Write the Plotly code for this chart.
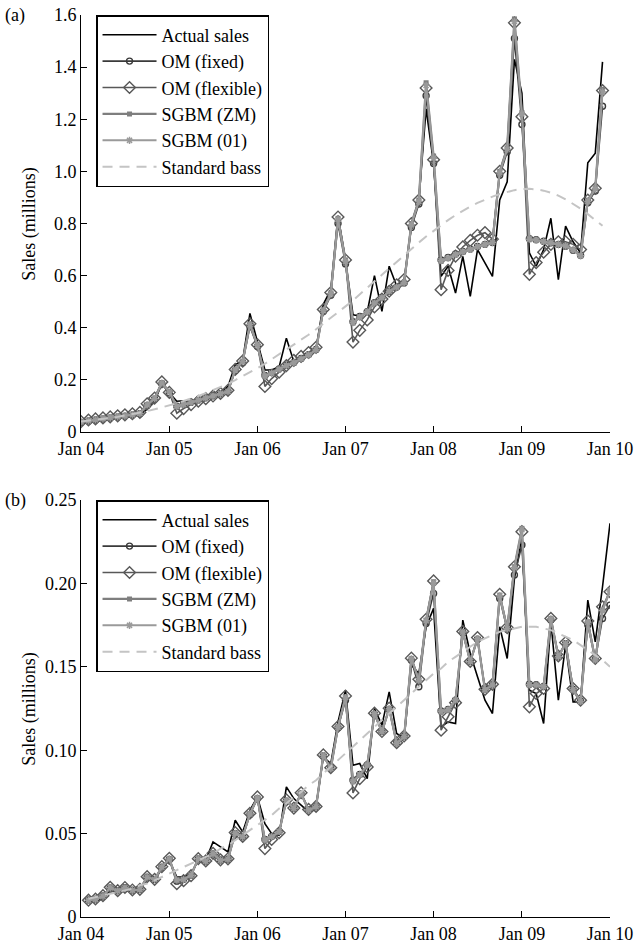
import pandas as pd
import plotly.graph_objects as go

FONT = "Liberation Serif, Times New Roman, serif"

# ---------------- Panel (a): monthly sales, Jan 2004 - Dec 2009 ----------------
months_a = pd.date_range("2004-01-01", periods=72, freq="MS")

actual_a = [
    0.033, 0.038, 0.042, 0.046, 0.050, 0.053, 0.056, 0.060, 0.066, 0.088, 0.118, 0.185,
    0.150, 0.118, 0.120, 0.118, 0.125, 0.132, 0.140, 0.152, 0.175, 0.258, 0.275, 0.455,
    0.345, 0.238, 0.238, 0.250, 0.360, 0.270, 0.285, 0.300, 0.320, 0.490, 0.546, 0.830,
    0.660, 0.450, 0.445, 0.460, 0.600, 0.463, 0.636, 0.560, 0.580, 0.790, 0.890, 1.240,
    1.030, 0.597, 0.636, 0.533, 0.674, 0.520, 0.700, 0.650, 0.597, 0.890, 0.960, 1.430,
    1.300, 0.687, 0.636, 0.700, 0.820, 0.585, 0.790, 0.730, 0.687, 1.033, 1.070, 1.420,
]
om_fixed_a = [
    0.037, 0.042, 0.046, 0.050, 0.054, 0.058, 0.061, 0.065, 0.070, 0.102, 0.126, 0.185,
    0.150, 0.099, 0.107, 0.114, 0.123, 0.131, 0.139, 0.147, 0.156, 0.235, 0.266, 0.405,
    0.328, 0.217, 0.228, 0.242, 0.256, 0.267, 0.282, 0.297, 0.317, 0.462, 0.525, 0.800,
    0.645, 0.423, 0.443, 0.462, 0.496, 0.516, 0.540, 0.556, 0.572, 0.785, 0.875, 1.290,
    1.030, 0.660, 0.670, 0.683, 0.693, 0.702, 0.712, 0.720, 0.727, 0.985, 1.075, 1.510,
    1.180, 0.742, 0.738, 0.732, 0.726, 0.720, 0.713, 0.697, 0.678, 0.880, 0.925, 1.250,
]
om_flex_a = [
    0.040, 0.046, 0.050, 0.054, 0.058, 0.062, 0.066, 0.070, 0.075, 0.108, 0.130, 0.192,
    0.152, 0.072, 0.090, 0.105, 0.118, 0.128, 0.138, 0.148, 0.160, 0.240, 0.272, 0.415,
    0.335, 0.175, 0.205, 0.230, 0.255, 0.275, 0.290, 0.305, 0.325, 0.470, 0.535, 0.825,
    0.660, 0.345, 0.390, 0.430, 0.480, 0.510, 0.540, 0.565, 0.585, 0.800, 0.890, 1.320,
    1.045, 0.546, 0.620, 0.675, 0.710, 0.735, 0.755, 0.765, 0.740, 1.000, 1.090, 1.570,
    1.210, 0.605, 0.650, 0.690, 0.720, 0.730, 0.730, 0.720, 0.700, 0.890, 0.935, 1.310,
]
sgbm_zm_a = [
    0.038, 0.043, 0.047, 0.051, 0.055, 0.058, 0.062, 0.066, 0.071, 0.105, 0.130, 0.190,
    0.155, 0.097, 0.105, 0.113, 0.122, 0.130, 0.138, 0.146, 0.155, 0.240, 0.272, 0.415,
    0.335, 0.213, 0.225, 0.240, 0.255, 0.265, 0.280, 0.295, 0.315, 0.469, 0.533, 0.820,
    0.660, 0.418, 0.440, 0.460, 0.495, 0.515, 0.540, 0.555, 0.572, 0.800, 0.890, 1.340,
    1.059, 0.655, 0.665, 0.680, 0.690, 0.700, 0.710, 0.720, 0.726, 1.000, 1.090, 1.585,
    1.226, 0.738, 0.735, 0.730, 0.725, 0.720, 0.715, 0.700, 0.674, 0.890, 0.937, 1.315,
]
sgbm_01_a = [
    0.039, 0.043, 0.047, 0.051, 0.055, 0.059, 0.062, 0.066, 0.071, 0.104, 0.128, 0.188,
    0.153, 0.098, 0.106, 0.114, 0.122, 0.130, 0.138, 0.147, 0.156, 0.238, 0.270, 0.412,
    0.333, 0.215, 0.226, 0.241, 0.255, 0.266, 0.281, 0.296, 0.316, 0.466, 0.530, 0.815,
    0.655, 0.420, 0.441, 0.461, 0.495, 0.515, 0.540, 0.556, 0.573, 0.795, 0.885, 1.330,
    1.050, 0.657, 0.667, 0.681, 0.691, 0.701, 0.711, 0.720, 0.727, 0.995, 1.085, 1.575,
    1.220, 0.740, 0.736, 0.731, 0.726, 0.720, 0.714, 0.699, 0.676, 0.885, 0.932, 1.305,
]
bass_a = [
    0.040, 0.043, 0.046, 0.050, 0.054, 0.058, 0.063, 0.068, 0.074, 0.080, 0.087, 0.094,
    0.102, 0.110, 0.119, 0.128, 0.138, 0.149, 0.160, 0.172, 0.185, 0.199, 0.214, 0.229,
    0.245, 0.262, 0.279, 0.297, 0.315, 0.334, 0.353, 0.373, 0.394, 0.415, 0.437, 0.459,
    0.482, 0.505, 0.529, 0.553, 0.578, 0.603, 0.628, 0.653, 0.678, 0.703, 0.727, 0.750,
    0.772, 0.793, 0.813, 0.832, 0.849, 0.865, 0.879, 0.892, 0.903, 0.913, 0.921, 0.928,
    0.932, 0.933, 0.931, 0.926, 0.918, 0.907, 0.893, 0.876, 0.857, 0.836, 0.814, 0.791,
]

# ---------------- Panel (b): monthly sales, Feb 2004 - Jan 2010 ----------------
months_b = pd.date_range("2004-02-01", periods=72, freq="MS")

actual_b = [
    0.009, 0.0095, 0.011, 0.016, 0.015, 0.017, 0.016, 0.016, 0.023, 0.022, 0.029,
    0.034,
    0.024, 0.024, 0.026, 0.034, 0.034, 0.045, 0.042, 0.039, 0.058, 0.051, 0.064,
    0.072,
    0.056, 0.050, 0.049, 0.078, 0.071, 0.067, 0.063, 0.066, 0.096, 0.092, 0.117,
    0.136,
    0.091, 0.092, 0.083, 0.125, 0.115, 0.135, 0.110, 0.107, 0.151, 0.146, 0.174,
    0.185,
    0.114, 0.117, 0.116, 0.178, 0.158, 0.144, 0.130, 0.122, 0.174, 0.155, 0.203,
    0.227,
    0.136, 0.134, 0.116, 0.177, 0.130, 0.163, 0.129, 0.129, 0.190, 0.165, 0.198,
    0.236,
]
om_fixed_b = [
    0.0102, 0.0107, 0.0126, 0.0174, 0.0157, 0.0175, 0.0161, 0.0165, 0.0238, 0.0225, 0.0298,
    0.0345,
    0.0215, 0.0226, 0.0251, 0.0348, 0.0335, 0.0378, 0.0342, 0.0347, 0.0500, 0.0481, 0.0615,
    0.0710,
    0.0465, 0.0483, 0.0512, 0.0695, 0.0652, 0.0738, 0.0643, 0.0661, 0.0965, 0.0893, 0.1135,
    0.1300,
    0.0820, 0.0855, 0.0912, 0.1215, 0.1112, 0.1245, 0.1045, 0.1082, 0.1540, 0.1380, 0.1760,
    0.1940,
    0.1235, 0.1245, 0.1300, 0.1705, 0.1532, 0.1665, 0.1365, 0.1392, 0.1910, 0.1725, 0.2050,
    0.2230,
    0.1395, 0.1392, 0.1382, 0.1780, 0.1562, 0.1638, 0.1365, 0.1295, 0.1750, 0.1545, 0.1790,
    0.1870,
]
om_flex_b = [
    0.0101, 0.0108, 0.0128, 0.0178, 0.0158, 0.0177, 0.0162, 0.0166, 0.0242, 0.0226, 0.0302,
    0.0352,
    0.0200, 0.0218, 0.0248, 0.0350, 0.0336, 0.0382, 0.0343, 0.0349, 0.0506, 0.0483, 0.0622,
    0.0720,
    0.0410, 0.0465, 0.0505, 0.0702, 0.0653, 0.0745, 0.0645, 0.0663, 0.0972, 0.0895, 0.1142,
    0.1325,
    0.0744, 0.0830, 0.0900, 0.1222, 0.1112, 0.1252, 0.1045, 0.1085, 0.1552, 0.1425, 0.1785,
    0.2015,
    0.1120, 0.1200, 0.1285, 0.1712, 0.1532, 0.1675, 0.1365, 0.1395, 0.1935, 0.1735, 0.2100,
    0.2310,
    0.1260, 0.1340, 0.1370, 0.1790, 0.1565, 0.1645, 0.1370, 0.1300, 0.1775, 0.1550, 0.1860,
    0.1950,
]
sgbm_zm_b = [
    0.0100, 0.0106, 0.0126, 0.0176, 0.0156, 0.0176, 0.0160, 0.0164, 0.0240, 0.0224, 0.0300,
    0.0350,
    0.0220, 0.0224, 0.0250, 0.0350, 0.0334, 0.0380, 0.0340, 0.0346, 0.0504, 0.0480, 0.0620,
    0.0716,
    0.0460, 0.0480, 0.0510, 0.0700, 0.0650, 0.0740, 0.0640, 0.0660, 0.0970, 0.0890, 0.1140,
    0.1320,
    0.0810, 0.0850, 0.0910, 0.1220, 0.1110, 0.1250, 0.1040, 0.1080, 0.1550, 0.1420, 0.1780,
    0.2010,
    0.1230, 0.1240, 0.1300, 0.1710, 0.1530, 0.1670, 0.1360, 0.1390, 0.1930, 0.1730, 0.2100,
    0.2330,
    0.1390, 0.1390, 0.1380, 0.1790, 0.1560, 0.1640, 0.1360, 0.1290, 0.1770, 0.1540, 0.1840,
    0.1960,
]
sgbm_01_b = [
    0.0101, 0.0106, 0.0125, 0.0175, 0.0157, 0.0175, 0.0161, 0.0164, 0.0239, 0.0225, 0.0299,
    0.0348,
    0.0222, 0.0225, 0.0251, 0.0349, 0.0335, 0.0379, 0.0341, 0.0347, 0.0502, 0.0481, 0.0618,
    0.0714,
    0.0462, 0.0481, 0.0511, 0.0698, 0.0651, 0.0738, 0.0641, 0.0661, 0.0968, 0.0891, 0.1138,
    0.1316,
    0.0814, 0.0852, 0.0911, 0.1218, 0.1111, 0.1248, 0.1042, 0.1081, 0.1548, 0.1418, 0.1776,
    0.2004,
    0.1233, 0.1242, 0.1301, 0.1708, 0.1531, 0.1668, 0.1362, 0.1391, 0.1926, 0.1728, 0.2094,
    0.2322,
    0.1392, 0.1391, 0.1381, 0.1787, 0.1561, 0.1639, 0.1362, 0.1292, 0.1768, 0.1541, 0.1836,
    0.1955,
]
bass_b = [
    0.011, 0.012, 0.013, 0.014, 0.015, 0.016, 0.017, 0.019, 0.020, 0.022, 0.024,
    0.026,
    0.028, 0.030, 0.032, 0.034, 0.036, 0.038, 0.041, 0.043, 0.046, 0.049, 0.052,
    0.055,
    0.058, 0.061, 0.065, 0.068, 0.072, 0.075, 0.079, 0.082, 0.086, 0.090, 0.094,
    0.098,
    0.102, 0.106, 0.110, 0.114, 0.118, 0.122, 0.126, 0.130, 0.134, 0.138, 0.142,
    0.146,
    0.149, 0.153, 0.156, 0.159, 0.162, 0.165, 0.167, 0.169, 0.171, 0.172, 0.173,
    0.174,
    0.174, 0.174, 0.173, 0.172, 0.170, 0.168, 0.166, 0.163, 0.160, 0.157, 0.154,
    0.150,
]

# ---------------- axis ticks ----------------
year_ticks = pd.date_range("2004-01-01", periods=7, freq="YS")
year_labels = ["Jan 04", "Jan 05", "Jan 06", "Jan 07", "Jan 08", "Jan 09", "Jan 10"]
yticks_a = [0, 0.2, 0.4, 0.6, 0.8, 1.0, 1.2, 1.4, 1.6]
ylabels_a = ["0", "0.2", "0.4", "0.6", "0.8", "1.0", "1.2", "1.4", "1.6"]
yticks_b = [0, 0.05, 0.10, 0.15, 0.20, 0.25]
ylabels_b = ["0", "0.05", "0.10", "0.15", "0.20", "0.25"]

series_names = ["Actual sales", "OM (fixed)", "OM (flexible)", "SGBM (ZM)", "SGBM (01)", "Standard bass"]

styles = [
    dict(mode="lines", line=dict(color="#000000", width=1.6)),
    dict(mode="lines+markers", line=dict(color="#3a3a3a", width=1.6),
         marker=dict(symbol="circle-open", size=6, color="#3a3a3a", line=dict(width=1.4))),
    dict(mode="lines+markers", line=dict(color="#585858", width=1.6),
         marker=dict(symbol="diamond-open", size=9, color="#585858", line=dict(width=1.4))),
    dict(mode="lines+markers", line=dict(color="#7e7e7e", width=2.2),
         marker=dict(symbol="square", size=5, color="#7e7e7e")),
    dict(mode="lines+markers", line=dict(color="#9a9a9a", width=2.0),
         marker=dict(symbol="asterisk-open", size=6, color="#9a9a9a", line=dict(width=1.5))),
    dict(mode="lines", line=dict(color="#c4c4c4", width=2, dash="10px,7px")),
]

fig = go.Figure()

panels = [
    (months_a, [actual_a, om_fixed_a, om_flex_a, sgbm_zm_a, sgbm_01_a, bass_a], "x", "y", "legend"),
    (months_b, [actual_b, om_fixed_b, om_flex_b, sgbm_zm_b, sgbm_01_b, bass_b], "x2", "y2", "legend2"),
]
for months, series, xa, ya, leg in panels:
    for name, vals, st in zip(series_names, series, styles):
        fig.add_trace(go.Scatter(x=months, y=vals, name=name, xaxis=xa, yaxis=ya,
                                 legend=leg, showlegend=True, **st))

axis_common = dict(
    showline=True, linecolor="black", linewidth=1, ticks="inside", ticklen=6,
    tickcolor="black", tickwidth=1, showgrid=False, zeroline=False, automargin=False,
    tickfont=dict(family=FONT, size=18, color="black"),
)

top_dom = [0.5377, 1.0]
bot_dom = [0.0, 0.4623]

legend_common = dict(
    x=0.0284, xanchor="left", yanchor="top", bgcolor="white",
    bordercolor="black", borderwidth=1.5, itemwidth=54, tracegroupgap=0,
    font=dict(family=FONT, size=18, color="black"),
)

fig.update_layout(
    width=637, height=944,
    margin=dict(l=81, r=27, t=15, b=27),
    template="none",
    paper_bgcolor="white", plot_bgcolor="white",
    font=dict(family=FONT, size=18, color="black"),
    xaxis=dict(domain=[0, 1], anchor="y", type="date",
               range=["2004-01-01", "2010-01-01"],
               tickvals=year_ticks, ticktext=year_labels, **axis_common),
    yaxis=dict(domain=top_dom, anchor="x", range=[0, 1.6],
               tickvals=yticks_a, ticktext=ylabels_a, **axis_common),
    xaxis2=dict(domain=[0, 1], anchor="y2", type="date",
                range=["2004-01-01", "2010-01-01"],
                tickvals=year_ticks, ticktext=year_labels, **axis_common),
    yaxis2=dict(domain=bot_dom, anchor="x2", range=[0, 0.25],
                tickvals=yticks_b, ticktext=ylabels_b, **axis_common),
    legend=dict(y=1.0, **legend_common),
    legend2=dict(y=0.4623, **legend_common),
    showlegend=True,
)

ann_font = dict(family=FONT, size=18, color="black")
fig.add_annotation(text="(a)", xref="paper", yref="paper", x=-0.124, y=1.0,
                   xanchor="center", yanchor="middle", showarrow=False, font=ann_font)
fig.add_annotation(text="(b)", xref="paper", yref="paper", x=-0.124, y=0.4623,
                   xanchor="center", yanchor="middle", showarrow=False, font=ann_font)
fig.add_annotation(text="Sales (millions)", xref="paper", yref="paper", x=-0.098,
                   y=(top_dom[0] + top_dom[1]) / 2, textangle=-90,
                   xanchor="center", yanchor="middle", showarrow=False, font=ann_font)
fig.add_annotation(text="Sales (millions)", xref="paper", yref="paper", x=-0.098,
                   y=(bot_dom[0] + bot_dom[1]) / 2, textangle=-90,
                   xanchor="center", yanchor="middle", showarrow=False, font=ann_font)

fig.write_html("out.html")
